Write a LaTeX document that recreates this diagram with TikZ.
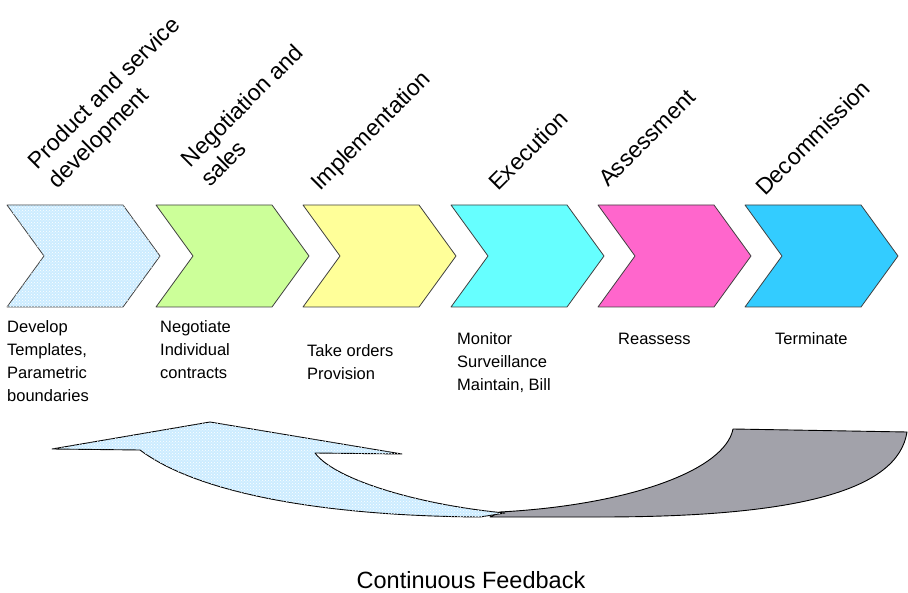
\documentclass[tikz,border=0pt]{standalone}
\usepackage{fontspec}
\setmainfont{Liberation Sans}
\usetikzlibrary{patterns}

\definecolor{devblue}{HTML}{CCECFF}
\definecolor{salesgreen}{HTML}{CCFF99}
\definecolor{implyellow}{HTML}{FFFF99}
\definecolor{execcyan}{HTML}{66FFFF}
\definecolor{assesspink}{HTML}{FF66CC}
\definecolor{decomblue}{HTML}{33CCFF}
\definecolor{backgray}{HTML}{A2A2AA}

\begin{document}
\begin{tikzpicture}[x=1pt,y=-1pt, line join=round,line cap=round,
	chev/.style={draw=black!75, line width=0.8pt},
	meshed/.style={postaction={pattern=crosshatch dots, pattern color=white}},
	nomesh/.style={},
	band/.style={draw=black, line width=0.9pt},
	stage/.style={rotate=45, anchor=base west, inner sep=0pt, align=left, font=\fontsize{23}{28}\selectfont},
	task/.style={anchor=base west, inner sep=0pt, align=left, font=\fontsize{16.5}{23}\selectfont}]
	\useasboundingbox (0,0) rectangle (908,593);
	% --- Chuỗi các giai đoạn ---
	\foreach \x/\col/\look in {7/devblue/meshed, 156/salesgreen/nomesh, 303/implyellow/nomesh,
		451/execcyan/nomesh, 598/assesspink/nomesh, 745/decomblue/nomesh}{
		\draw[chev, fill=\col, \look] (\x,205) -- ++(116,0) -- ++(37,51) -- ++(-37,51)
			-- ++(-116,0) -- ++(37,-51) -- cycle;
	}
	% --- Tên giai đoạn (xoay 45 độ, neo ở dòng cuối) ---
	\node[stage] (product) at (57,190) {Product and service\\development};
	\node[stage] (sales) at (210,188) {Negotiation and\\sales};
	\node[stage] (impl) at (320,192) {Implementation};
	\node[stage] (exec) at (498,192) {Execution};
	\node[stage] (assess) at (608,188) {Assessment};
	\node[stage] (decom) at (765,197) {Decommission};
	% --- Công việc từng giai đoạn (neo ở dòng cuối) ---
	\node[task] (develop) at (7,402) {Develop\\Templates,\\Parametric\\boundaries};
	\node[task] (negotiate) at (160,379) {Negotiate\\Individual\\contracts};
	\node[task] (orders) at (307,380) {Take orders\\Provision};
	\node[task] (monitor) at (457,391) {Monitor\\Surveillance\\Maintain, Bill};
	\node[task] (reassess) at (618,345) {Reassess};
	\node[task] (terminate) at (775,345) {Terminate};
	% --- Mũi tên phản hồi ---
	\draw[band, fill=backgray]
		(733,429) -- (907,432) .. controls (898,490) and (800,517) .. (600,517)
		-- (490,517) -- (500,512) .. controls (630,505) and (725,470) .. (733,429) -- cycle;
	\draw[band, fill=devblue, meshed]
		(52,449) -- (210,422) -- (402,454) -- (315,453)
		.. controls (335,480) and (420,505) .. (505,513) -- (480,517)
		.. controls (330,516) and (200,495) .. (140,450) -- cycle;
	\node[anchor=base, inner sep=0pt, font=\fontsize{23.5}{28}\selectfont] (feedback) at (471,588) {Continuous Feedback};
\end{tikzpicture}
\end{document}
